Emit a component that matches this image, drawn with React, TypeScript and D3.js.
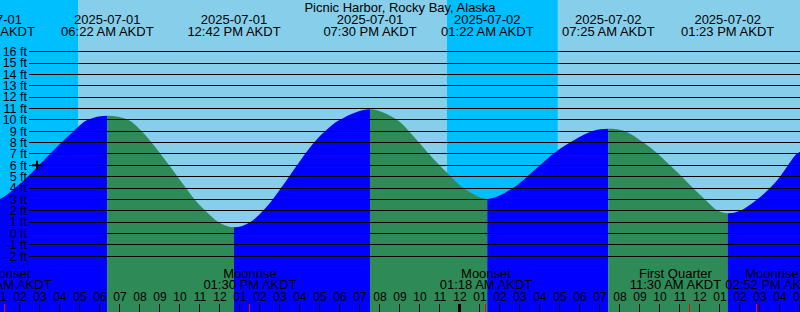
import React from 'react';
import * as d3 from 'd3';

const WIDTH = 800;
const HEIGHT = 312;
const FONT = '"Liberation Sans", Arial, Helvetica, sans-serif';

const title = 'Picnic Harbor, Rocky Bay, Alaska';
const zone = 'AKDT';

// window of the graph
const windowStartDate = '2025-07-01';
const windowStartTime = '01:00 AM';
const windowEndDate = '2025-07-02';
const windowEndTime = '05:00 PM';

// tide height samples (hours after 2025-07-01 00:00 AKDT, feet)
const tideHours = [
  0.43, 1.0, 1.75, 2.38, 2.95, 3.5, 4.07, 4.68, 5.38, 6.367,
  7.4, 8.08, 8.58, 9.03, 9.46, 9.88, 10.3, 10.73, 11.27, 11.93, 12.7,
  13.5, 14.15, 14.63, 15.05, 15.45, 15.85, 16.25, 16.7, 17.25, 18.0, 19.5,
  20.85, 21.45, 21.95, 22.45, 22.98, 23.55, 24.18, 25.367,
  26.65, 27.35, 28.0, 28.65, 29.5, 30.6, 31.417,
  32.25, 33.17, 33.9, 34.5, 35.1, 35.65, 36.25, 36.9, 37.383,
  38.0, 38.85, 39.5, 40.0, 40.4, 40.82, 41.0,
];
const tideFeet = [
  2.95, 3.04, 4, 5, 6, 7, 8, 9, 10, 10.37,
  10, 9, 8, 7, 6, 5, 4, 3, 2, 1, 0.54,
  1, 2, 3, 4, 5, 6, 7, 8, 9, 10, 10.93,
  10, 9, 8, 7, 6, 5, 4, 3.04,
  4, 5, 6, 7, 8, 9, 9.22,
  9, 8, 7, 6, 5, 4, 3, 2, 1.78,
  2, 3, 4, 5, 6, 7, 7.2,
];

// high / low tide events
const eventDates = ['2025-07-01', '2025-07-01', '2025-07-01', '2025-07-01', '2025-07-02', '2025-07-02', '2025-07-02'];
const eventTimes = ['12:26 AM', '06:22 AM', '12:42 PM', '07:30 PM', '01:22 AM', '07:25 AM', '01:23 PM'];
const eventKinds = ['Low', 'High', 'Low', 'High', 'Low', 'High', 'Low'];

// moon events
const moonNames = ['Moonset', 'Moonrise', 'Moonset', 'First Quarter', 'Moonrise'];
const moonDates = ['2025-07-01', '2025-07-01', '2025-07-02', '2025-07-02', '2025-07-02'];
const moonTimes = ['01:16 AM', '01:30 PM', '01:18 AM', '11:30 AM', '02:52 PM'];

// nights (sunset -> sunrise)
const sunsetDates = ['2025-06-30', '2025-07-01'];
const sunsetTimes = ['11:24 PM', '11:21 PM'];
const sunriseDates = ['2025-07-01', '2025-07-02'];
const sunriseTimes = ['04:54 AM', '04:53 AM'];

// level axis
const levelTicks = [-2, -1, 0, 1, 2, 3, 4, 5, 6, 7, 8, 9, 10, 11, 12, 13, 14, 15, 16];

// mark
const markDate = '2025-07-01';
const markTime = '02:51 AM';
const markFeet = 6;

function toHours(date: string, time: string): number {
  const [y, m, d] = date.split('-').map(Number);
  const dayOffset = (Date.UTC(y, m - 1, d) - Date.UTC(2025, 6, 1)) / 3600000;
  const [hm, ap] = time.split(' ');
  let [hh, mm] = hm.split(':').map(Number);
  if (ap === 'AM' && hh === 12) hh = 0;
  if (ap === 'PM' && hh !== 12) hh += 12;
  return dayOffset + hh + mm / 60;
}

let ctx: CanvasRenderingContext2D | null = null;
function textWidth(s: string, size: number): number {
  if (!ctx) {
    const c = document.createElement('canvas');
    ctx = c.getContext('2d');
  }
  if (!ctx) return s.length * size * 0.55;
  ctx.font = `${size}px "Liberation Sans", Arial, sans-serif`;
  return ctx.measureText(s).width;
}

export default function App() {
  const t0 = toHours(windowStartDate, windowStartTime);
  const t1 = toHours(windowEndDate, windowEndTime);
  const x = d3.scaleLinear().domain([t0, t1]).range([0, WIDTH]);
  const y = d3.scaleLinear().domain([-2, 16]).range([256.23, 51.68]);

  const idx = tideHours.map((_, i) => i);
  const area = d3
    .area<number>()
    .x((i) => x(tideHours[i]))
    .y0(HEIGHT)
    .y1((i) => y(tideFeet[i]))
    .curve(d3.curveCatmullRom.alpha(0.5));
  const areaPath = area(idx) || '';

  const evHours = eventDates.map((d, i) => toHours(d, eventTimes[i]));
  const segs: { a: number; b: number; rising: boolean }[] = [];
  segs.push({ a: t0 - 5, b: evHours[0], rising: eventKinds[0] === 'High' });
  for (let i = 0; i < evHours.length - 1; i++) {
    segs.push({ a: evHours[i], b: evHours[i + 1], rising: eventKinds[i + 1] === 'High' });
  }
  segs.push({ a: evHours[evHours.length - 1], b: t1 + 5, rising: eventKinds[eventKinds.length - 1] === 'Low' });

  const nights = sunsetDates.map((d, i) => ({
    a: toHours(d, sunsetTimes[i]),
    b: toHours(sunriseDates[i], sunriseTimes[i]),
  }));

  const hourTicks = x.ticks(40);

  const moonHours = moonDates.map((d, i) => toHours(d, moonTimes[i]));
  const moonLabels = moonNames.map((n, i) => {
    const t = `${moonTimes[i]} ${zone}`;
    const w = Math.max(textWidth(n, 13), textWidth(t, 13));
    return { name: n, time: t, cx: x(moonHours[i]), w };
  });
  for (let iter = 0; iter < 10; iter++) {
    for (let i = 0; i < moonLabels.length - 1; i++) {
      const L = moonLabels[i];
      const R = moonLabels[i + 1];
      const gap = 3;
      const over = L.cx + L.w / 2 + gap - (R.cx - R.w / 2);
      if (over > 0) {
        L.cx -= over / 2;
        R.cx += over / 2;
      }
    }
  }

  const mx = x(toHours(markDate, markTime));
  const my = y(markFeet);

  return (
    <svg
      width={WIDTH}
      height={HEIGHT}
      style={{ position: 'absolute', left: 0, top: 0, display: 'block' }}
      fontFamily={FONT}
    >
      <defs>
        {segs.map((s, i) => (
          <clipPath id={`seg${i}`} key={i}>
            <rect x={x(s.a)} y={0} width={Math.max(0, x(s.b) - x(s.a))} height={HEIGHT} />
          </clipPath>
        ))}
      </defs>
      <rect x={0} y={0} width={WIDTH} height={HEIGHT} fill="#87CEEB" />
      {nights.map((n, i) => (
        <rect key={i} x={x(n.a)} y={0} width={x(n.b) - x(n.a)} height={HEIGHT} fill="#00BFFF" />
      ))}
      {segs.map((s, i) => (
        <path key={i} d={areaPath} fill={s.rising ? '#0000FF' : '#2E8B57'} clipPath={`url(#seg${i})`} />
      ))}
      {levelTicks.map((v) => (
        <g key={v}>
          <line
            x1={29}
            x2={WIDTH}
            y1={Math.floor(y(v)) + 0.5}
            y2={Math.floor(y(v)) + 0.5}
            stroke="#000"
            strokeWidth={1}
          />
          <text x={27} y={y(v) + 4.3} textAnchor="end" fontSize={12.5} fill="#000">
            {`${v} ft`}
          </text>
        </g>
      ))}
      <g stroke="#000" strokeWidth={2}>
        <line x1={mx - 4.7} x2={mx + 4.7} y1={my} y2={my} />
        <line x1={mx} x2={mx} y1={my - 4.5} y2={my + 4.5} />
      </g>
      <text x={WIDTH / 2} y={12} textAnchor="middle" fontSize={13} fill="#000">
        {title}
      </text>
      {evHours.map((h, i) => (
        <g key={i}>
          <text x={x(h)} y={23.5} textAnchor="middle" fontSize={13} fill="#000">
            {eventDates[i]}
          </text>
          <text x={x(h)} y={36} textAnchor="middle" fontSize={13} fill="#000">
            {`${eventTimes[i]} ${zone}`}
          </text>
        </g>
      ))}
      {moonLabels.map((m, i) => (
        <g key={i}>
          <text x={m.cx} y={277.5} textAnchor="middle" fontSize={13} fill="#000">
            {m.name}
          </text>
          <text x={m.cx} y={289} textAnchor="middle" fontSize={13} fill="#000">
            {m.time}
          </text>
        </g>
      ))}
      {hourTicks.map((h) => {
        const hr = ((((h % 12) + 11) % 12) + 1).toString().padStart(2, '0');
        const midnight = h % 24 === 0;
        const xp = Math.round(x(h)) - 0.5;
        return (
          <g key={h}>
            <text x={x(h)} y={301} textAnchor="middle" fontSize={12} fill="#000">
              {hr}
            </text>
            <line x1={xp} x2={xp} y1={304} y2={HEIGHT} stroke="#000" strokeWidth={midnight ? 3 : 1} />
          </g>
        );
      })}
      {moonHours.map((h, i) => {
        const xp = Math.round(x(h)) - 0.5;
        return <line key={i} x1={xp} x2={xp} y1={304} y2={HEIGHT} stroke="#FF0000" strokeWidth={1} />;
      })}
    </svg>
  );
}
